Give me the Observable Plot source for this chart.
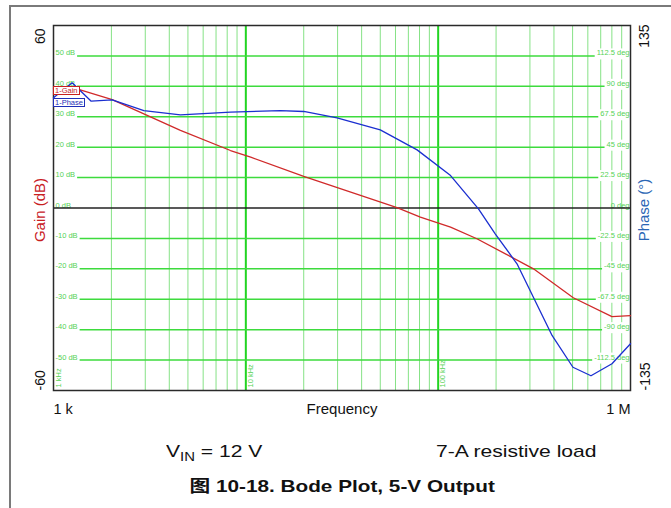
<!DOCTYPE html>
<html>
<head>
<meta charset="utf-8">
<script src="https://cdn.jsdelivr.net/npm/d3@7"></script>
<script src="https://cdn.jsdelivr.net/npm/@observablehq/plot@0.6"></script>
<style>
  html, body { margin: 0; padding: 0; background: white; }
  body { width: 671px; height: 508px; position: relative; overflow: hidden; font-family: "Liberation Sans", Arial, sans-serif; }
  #chart { position: absolute; left: 0; top: 0; }
  .frameTop { position: absolute; left: 9px; top: 5px; width: 662px; height: 2px; background: #7a7a7a; }
  .frameLeft { position: absolute; left: 9px; top: 5px; width: 2px; height: 503px; background: #7a7a7a; }
  .lg { position: absolute; font-size: 7.5px; line-height: 7px; padding: 0 1px; background: white; font-family: "Liberation Sans", Arial, sans-serif; }
  .note { position: absolute; font-size: 17px; color: #111; white-space: nowrap; transform-origin: 0 0; transform: scaleX(1.24); }
  .note sub { font-size: 12px; vertical-align: -4px; line-height: 0; }
  .titlewrap { position: absolute; top: 472px; left: 0; width: 685px; text-align: center; }
  .title { display: inline-block; font-weight: bold; font-size: 17px; color: #111; white-space: nowrap; transform: scaleX(1.22); }
  .title .cjk { font-family: "Noto Sans CJK SC", sans-serif; }
</style>
</head>
<body>
<div id="chart"></div>
<div class="frameTop"></div>
<div class="frameLeft"></div>
<div class="lg" style="left:53px;top:86px;color:#c8201f;border:1px solid #c8201f;">1-Gain</div>
<div class="lg" style="left:53px;top:98px;color:#1f2fb8;border:1px solid #1f2fb8;">1-Phase</div>
<div class="note" style="left:166px;top:442px;">V<sub>IN</sub> = 12 V</div>
<div class="note" style="left:436px;top:442px;">7-A resistive load</div>
<div class="titlewrap"><div class="title"><span class="cjk">图</span> 10-18. Bode Plot, 5-V Output</div></div>
<script>
// ---- data ----
const gainFreq = [1000, 1350, 2020, 4570, 8320, 10600, 20000, 61100, 80800, 116000, 159000, 313000, 504000, 801000, 1000000];
const gainDb   = [39.3, 39.0, 35.6, 25.5, 18.9, 16.7, 10.4, 0.1, -3.0, -6.3, -10.1, -20.0, -29.5, -35.7, -35.4];

const phaseFreq = [1000, 1250, 1570, 2020, 2950, 4570, 8320, 15100, 20000, 29800, 50000, 77700, 116000, 162000, 198000, 257000, 391000, 502000, 623000, 801000, 1000000];
const phaseDeg  = [81.5, 92.6, 79.0, 80.0, 72.1, 68.9, 70.9, 72.1, 71.4, 66.7, 57.8, 43.0, 24.0, -0.6, -19.1, -41.3, -94.3, -117.8, -124.1, -115.2, -100.4];

const gridDb     = [50, 40, 30, 20, 10, 0, -10, -20, -30, -40, -50];
const dbLabels   = ["50 dB", "40 dB", "30 dB", "20 dB", "10 dB", "0 dB", "-10 dB", "-20 dB", "-30 dB", "-40 dB", "-50 dB"];
const degLabels  = ["112.5 deg", "90 deg", "67.5 deg", "45 deg", "22.5 deg", "0 deg", "-22.5 deg", "-45 deg", "-67.5 deg", "-90 deg", "-112.5 deg"];
const decadeFreq = [10000, 100000];
const minorFreq  = [2000, 3000, 4000, 5000, 6000, 7000, 8000, 9000,
                    20000, 30000, 40000, 50000, 60000, 70000, 80000, 90000,
                    200000, 300000, 400000, 500000, 600000, 700000, 800000, 900000];
const freqMarkFreq = [1000, 10000, 100000];
const freqMarkLbl  = ["1 kHz", "10 kHz", "100 kHz"];

const gainRange = [-60, 60];
const phaseRange = [-135, 135];

const gain = gainFreq.map((f, i) => ({f, v: gainDb[i]}));
const phase = phaseFreq.map((f, i) => ({f, v: phaseDeg[i]}));
const toLeft = p => p * gainRange[1] / phaseRange[1];

const GREEN_LBL = "#55d255";
const RED = "#c8201f";
const BLUE = "#2a66b5";

const chart = Plot.plot({
  width: 671,
  height: 425,
  marginLeft: 53,
  marginRight: 41,
  marginTop: 25,
  marginBottom: 35,
  x: {type: "log", domain: [1000, 1000000], axis: null},
  y: {domain: gainRange, axis: null},
  style: {fontFamily: "'Liberation Sans', Arial, sans-serif", background: "white"},
  marks: [
    Plot.ruleX(minorFreq, {stroke: "#86e286", strokeWidth: 1}),
    Plot.ruleX(decadeFreq, {stroke: "#22d422", strokeWidth: 2}),
    Plot.ruleY(gridDb.filter(d => d !== 0), {stroke: "#3ddb3d", strokeWidth: 1.5}),
    Plot.text(gridDb, {y: d => d, text: (d, i) => dbLabels[i], frameAnchor: "left", textAnchor: "start", lineAnchor: "bottom", dx: 2, dy: -0.5, fontSize: 7.5, fill: GREEN_LBL, className: "gridlbl"}),
    Plot.text(gridDb, {y: d => d, text: (d, i) => degLabels[i], frameAnchor: "right", textAnchor: "end", lineAnchor: "bottom", dx: -1, dy: -0.5, fontSize: 7.5, fill: GREEN_LBL, className: "gridlbl"}),
    Plot.text(freqMarkFreq, {x: d => d, text: (d, i) => freqMarkLbl[i], frameAnchor: "bottom", rotate: -90, textAnchor: "start", lineAnchor: "top", dx: 2, dy: -3, fontSize: 7.5, fill: GREEN_LBL}),
    Plot.ruleY([0], {stroke: "#222", strokeWidth: 1.5}),
    Plot.frame({stroke: "#2a2a2a", strokeWidth: 1.5}),
    Plot.line(gain, {x: "f", y: "v", stroke: "#d02a2a", strokeWidth: 1.3}),
    Plot.line(phase, {x: "f", y: d => toLeft(d.v), stroke: "#1b2fd0", strokeWidth: 1.3}),
    // outer axis labels
    Plot.text([String(gainRange[1])], {text: d => d, frameAnchor: "top-left", rotate: -90, textAnchor: "end", lineAnchor: "middle", dx: -13, dy: 3, fontSize: 14, fill: "#111"}),
    Plot.text([String(gainRange[0])], {text: d => d, frameAnchor: "bottom-left", rotate: -90, textAnchor: "start", lineAnchor: "middle", dx: -13, dy: 0, fontSize: 14, fill: "#111"}),
    Plot.text([String(phaseRange[1])], {text: d => d, frameAnchor: "top-right", rotate: -90, textAnchor: "end", lineAnchor: "middle", dx: 14, dy: -1, fontSize: 14, fill: "#111"}),
    Plot.text([String(phaseRange[0])], {text: d => d, frameAnchor: "bottom-right", rotate: -90, textAnchor: "start", lineAnchor: "middle", dx: 15, dy: 0, fontSize: 14, fill: "#111"}),
    Plot.text(["Gain (dB)"], {text: d => d, frameAnchor: "left", rotate: -90, textAnchor: "middle", lineAnchor: "middle", dx: -13, dy: 2, fontSize: 15, fill: RED}),
    Plot.text(["Phase (°)"], {text: d => d, frameAnchor: "right", rotate: -90, textAnchor: "middle", lineAnchor: "middle", dx: 13.5, dy: 2, fontSize: 15, fill: BLUE}),
    Plot.text(["1 k"], {text: d => d, frameAnchor: "bottom-left", textAnchor: "start", lineAnchor: "top", dy: 13, fontSize: 14.5, fill: "#111"}),
    Plot.text(["1 M"], {text: d => d, frameAnchor: "bottom-right", textAnchor: "end", lineAnchor: "top", dy: 13, fontSize: 14.5, fill: "#111"}),
    Plot.text(["Frequency"], {text: d => d, frameAnchor: "bottom", textAnchor: "middle", lineAnchor: "top", dy: 13, fontSize: 15, fill: "#111"})
  ]
});
document.getElementById("chart").append(chart);

// white backgrounds behind the in-plot grid labels (except on the 0 line)
chart.querySelectorAll("g.gridlbl text").forEach(t => {
  if (/^0 d/.test(t.textContent)) return;
  const b = t.getBBox();
  const r = document.createElementNS("http://www.w3.org/2000/svg", "rect");
  r.setAttribute("x", b.x - 2);
  r.setAttribute("y", b.y);
  r.setAttribute("width", b.width + 4);
  r.setAttribute("height", b.height + 2);
  r.setAttribute("fill", "white");
  const tr = t.getAttribute("transform");
  if (tr) r.setAttribute("transform", tr);
  t.parentNode.insertBefore(r, t);
});
</script>
</body>
</html>
